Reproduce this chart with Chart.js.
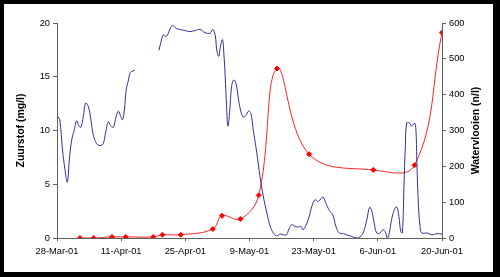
<!DOCTYPE html>
<html>
<head>
<meta charset="utf-8">
<script src="https://cdn.jsdelivr.net/npm/chart.js@4/dist/chart.umd.min.js"></script>
<style>
  body { margin: 0; background: #000; }
  #wrap { position: absolute; left: 4px; top: 4px; width: 489px; height: 268px; background: #fff; }
</style>
</head>
<body>
<div id="wrap"><canvas id="daphnia-chart" width="489" height="268"></canvas></div>
<script>
// days since 28-Mar-01
let dateLabels = ['28-Mar-01', '11-Apr-01', '25-Apr-01', '9-May-01', '23-May-01', '6-Jun-01', '20-Jun-01'];

// Zuurstof (mg/l), logger readings, gap in the middle
let oxygenDays = [0.15, 0.6, 1.2, 1.75, 2.25, 2.7, 3.2, 3.8, 4.3, 4.8, 5.2, 5.75, 6.25, 6.85, 7.4, 7.9, 8.65, 9.4, 10.1, 10.6,
    11.2, 11.7, 12.3, 12.9, 13.4, 13.9, 14.3, 14.7, 15.1, 15.6, 16.0, 16.7, 17.0,
    19.5,
    22.25, 22.6, 23.2, 23.7, 24.1, 24.65, 25.25, 26.0, 26.8, 27.9, 29.0, 30.1, 31.2, 32.3, 33.4, 34.0, 34.5, 34.9,
    35.3, 35.6, 36.1, 36.4, 36.7, 37.0, 37.3, 37.7, 38.1, 38.55, 39.05, 39.6, 40.1, 40.65, 41.2, 41.8, 42.3, 42.8,
    43.6, 44.3, 45.0, 45.8, 46.5, 47.2, 47.9, 48.7, 49.4, 50.1, 50.6, 51.2, 51.9, 52.65, 53.2, 53.7, 54.8, 55.6,
    56.3, 57.0, 58.0, 58.6, 59.4, 60.15, 60.9, 61.6, 62.5, 63.2, 64.3, 65.4, 66.1, 66.8, 67.6, 68.2, 68.7, 69.2,
    69.75, 70.5, 71.1, 71.6, 72.1, 72.5, 73.0, 73.6, 74.1, 74.6, 75.0, 75.35, 75.7, 76.0, 76.3, 76.9, 77.4, 78.0,
    78.3, 78.5, 78.8, 79.2, 79.6, 80.7, 81.8, 82.9, 84.0];
let oxygenValues = [11.3, 11.0, 8.2, 6.35, 5.2, 7.3, 9.1, 10.1, 10.9, 10.4, 10.3, 11.3, 12.55, 12.2, 11.0, 9.6, 8.77, 8.6, 8.8, 9.8,
    10.8, 10.45, 10.3, 11.3, 11.8, 11.3, 11.0, 11.9, 13.8, 14.7, 15.4, 15.55, 15.6,
    null,
    17.45, 18.1, 18.9, 18.75, 18.85, 19.45, 19.75, 19.5, 19.4, 19.3, 19.2, 19.3, 19.4, 19.1, 19.05, 19.4, 18.9, 17.35,
    16.9, 17.7, 18.45, 17.2, 15.0, 12.25, 10.4, 11.9, 14.1, 14.7, 14.4, 12.9, 11.8, 11.25, 11.4, 11.8, 11.6, 10.1,
    7.9, 5.7, 3.9, 2.3, 1.1, 0.47, 0.2, 0.37, 0.3, 0.3, 0.84, 1.24, 1.1, 1.02, 1.1, 0.77, 1.7, 2.94,
    3.56, 3.4, 3.8, 3.3, 2.57, 2.17, 1.02, 0.47, 0.4, 0.3, 0.15, 0.0, 0.1, 0.47, 1.7, 2.85, 2.5, 1.4,
    0.47, 0.47, 0.77, 0.6, 0.0, 0.47, 1.7, 2.63, 2.9, 2.0, 0.6, 0.47, 4.8, 8.5, 10.7, 10.7, 10.4, 10.7,
    10.1, 7.3, 3.6, 1.1, 0.47, 0.47, 0.3, 0.4, 0.37];

// Watervlooien (n/l), sampling days
let fleaDays = [5, 8, 12, 15, 21, 23, 27, 34, 36, 40, 44, 48, 55, 69, 78, 84];
let fleaValues = [0, 0, 3, 3, 3, 9, 9, 25, 62, 53, 119, 473, 234, 190, 203, 573];

let oxygenData = oxygenDays.map((d, i) => ({ x: d, y: oxygenValues[i] }));
let fleaData = fleaDays.map((d, i) => ({ x: d, y: fleaValues[i] }));

let tickFont = { family: 'Arial, "Liberation Sans", sans-serif', size: 9.3 };
let titleFont = { family: 'Arial, "Liberation Sans", sans-serif', size: 10.5, weight: 'bold' };

// right axis title reads bottom-to-top like the left one
const rightTitle = {
    id: 'rightTitle',
    afterDraw(chart) {
        let c = chart.ctx;
        let area = chart.chartArea;
        c.save();
        c.translate(472, (area.top + area.bottom) / 2);
        c.rotate(-Math.PI / 2);
        c.font = 'bold 10.5px Arial, "Liberation Sans", sans-serif';
        c.fillStyle = '#000';
        c.textAlign = 'center';
        c.textBaseline = 'middle';
        c.fillText('Watervlooien (n/l)', 0, 0);
        c.restore();
    }
};

let ctx = document.getElementById('daphnia-chart').getContext('2d');

new Chart(ctx, {
    type: 'line',
    data: {
        datasets: [{
            label: 'Zuurstof (mg/l)',
            data: oxygenData,
            yAxisID: 'y',
            borderColor: '#30309c',
            borderWidth: 1,
            pointRadius: 0,
            tension: 0.4,
            spanGaps: false
        }, {
            label: 'Watervlooien (n/l)',
            data: fleaData,
            yAxisID: 'y1',
            borderColor: '#ff2020',
            backgroundColor: '#ff0000',
            borderWidth: 1,
            pointStyle: 'rectRot',
            pointRadius: 2.5,
            pointBorderColor: '#ff0000',
            pointBackgroundColor: '#ff0000',
            tension: 0.4
        }]
    },
    options: {
        responsive: false,
        animation: false,
        layout: { padding: { top: 19, left: 0, right: 0, bottom: 0 } },
        plugins: {
            legend: { display: false },
            tooltip: { enabled: false }
        },
        scales: {
            x: {
                type: 'linear',
                min: 0,
                max: 84,
                afterFit: function (scale) { scale.height = 34; },
                grid: { drawOnChartArea: false, tickLength: 3, color: '#606060' },
                border: { color: '#606060' },
                ticks: {
                    stepSize: 14,
                    padding: 5,
                    maxRotation: 0,
                    color: '#000',
                    font: tickFont,
                    callback: function (value) { return dateLabels[value / 14]; }
                }
            },
            y: {
                position: 'left',
                min: 0,
                max: 20,
                afterFit: function (scale) { scale.width = 53; },
                grid: { drawOnChartArea: false, tickLength: 4, color: '#606060' },
                border: { color: '#606060' },
                ticks: { stepSize: 5, padding: 3, color: '#000', font: tickFont },
                title: { display: true, text: 'Zuurstof (mg/l)', color: '#000', font: titleFont, padding: { top: 11, bottom: 0 } }
            },
            y1: {
                position: 'right',
                min: 0,
                max: 600,
                afterFit: function (scale) { scale.width = 51; },
                grid: { drawOnChartArea: false, tickLength: 4, color: '#606060' },
                border: { color: '#606060' },
                ticks: { stepSize: 100, padding: 3, color: '#000', font: tickFont }
            }
        }
    },
    plugins: [rightTitle]
});
</script>
</body>
</html>
